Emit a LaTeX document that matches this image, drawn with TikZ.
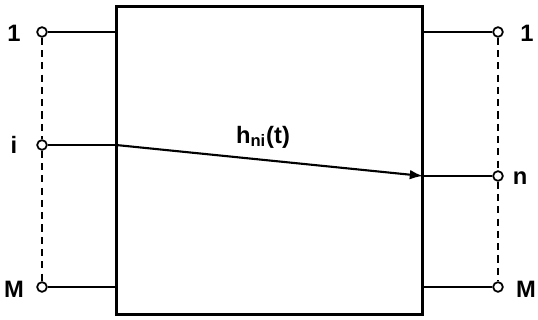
\documentclass[tikz,border=0pt]{standalone}
\usepackage{fontspec}
\setmainfont{Liberation Sans}
\usetikzlibrary{arrows.meta}

\begin{document}
\begin{tikzpicture}[x=0.02cm, y=-0.02cm,
  port/.style={circle, draw, line width=1pt, fill=white, inner sep=0pt, minimum size=5.5pt},
  wire/.style={line width=1.2pt},
  bus/.style={line width=0.6pt, dash pattern=on 4pt off 3pt},
  lbl/.style={font=\bfseries\fontsize{13.5}{16}\selectfont}]

\useasboundingbox (0,0) rectangle (538,320);

% ---------- system block ----------
\node[draw, line width=1.7pt, inner sep=0pt, outer sep=0pt,
      minimum width=6.14cm, minimum height=6.18cm] (sys) at (269.5,160.5) {};

% ---------- input terminals ----------
\node[port] (in1) at (42,32) {};
\node[port] (ini) at (42,145) {};
\node[port] (inM) at (42,287) {};
\node[lbl] at (14,33) {1};
\node[lbl] at (14,145) {i};
\node[lbl] at (14,289) {M};

% ---------- output terminals ----------
\node[port] (out1) at (498,32) {};
\node[port] (outn) at (498,176) {};
\node[port] (outM) at (498,287) {};
\node[lbl] at (527,33) {1};
\node[lbl] at (520,178) {n};
\node[lbl] at (526,289) {M};

% ---------- wires ----------
\coordinate (hin) at (ini -| sys.west);
\coordinate (hout) at (outn -| sys.east);
\draw[wire] (in1) -- (in1 -| sys.west);
\draw[wire] (inM) -- (inM -| sys.west);
\draw[wire] (ini) -- (hin);
\draw[wire] (out1) -- (out1 -| sys.east);
\draw[wire] (outM) -- (outM -| sys.east);
\draw[wire] (hout) -- (outn);
\draw[wire, -{Latex[length=7.5pt, width=5.5pt]}] (hin) -- (hout);
\node[lbl] (h) at (263,137) {h\textsubscript{ni}(t)};

% ---------- dashed buses ----------
\draw[bus] (in1) -- (ini) -- (inM);
\draw[bus] (out1) -- (outn) -- (outM);

\end{tikzpicture}
\end{document}
